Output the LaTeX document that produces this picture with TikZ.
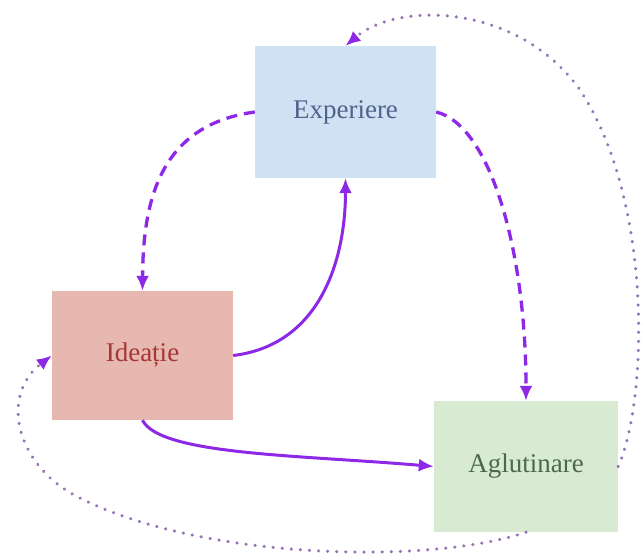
\documentclass[tikz,border=0pt]{standalone}
\usepackage{fontspec}
\setmainfont{Liberation Serif}
\usetikzlibrary{arrows.meta}
\definecolor{arrowc}{RGB}{140,40,230}
\definecolor{dotc}{RGB}{150,115,180}
\definecolor{expfill}{RGB}{207,226,243}
\definecolor{idefill}{RGB}{230,184,175}
\definecolor{aglfill}{RGB}{217,234,211}
\definecolor{exptext}{RGB}{80,98,140}
\definecolor{idetext}{RGB}{165,55,55}
\definecolor{agltext}{RGB}{75,105,75}
\tikzset{
  box/.style={draw=none, inner sep=0pt, font=\fontsize{27}{32}\selectfont},
  tip/.style={-{Latex[length=15pt,width=13pt]}},
  solidarr/.style={tip, draw=arrowc, line width=3pt},
  dasharr/.style={tip, draw=arrowc, line width=3.3pt, dash pattern=on 11pt off 7pt},
  dotarr/.style={-{Latex[length=15pt,width=13pt,color=arrowc]}, draw=dotc, line width=3.4pt, dash pattern=on 0.1pt off 9pt, line cap=round},
}
\begin{document}
\begin{tikzpicture}[x=1pt,y=-1pt]
\useasboundingbox (0,0) rectangle (641,556);
\node[box, fill=expfill, minimum width=181pt, minimum height=132pt, text=exptext] (exp) at (345.5,112) {Experiere};
\node[box, fill=idefill, minimum width=181pt, minimum height=129pt, text=idetext] (ide) at (142.5,355.5) {Ideație};
\node[box, fill=aglfill, minimum width=184pt, minimum height=131pt, text=agltext] (agl) at (526,466.5) {Aglutinare};
% dashed
\draw[dasharr] (exp.west) .. controls (160,125) and (143,200) .. (ide.north);
\draw[dasharr] (exp.east) .. controls (490,125) and (526,250) .. (agl.north);
% solid
\draw[solidarr] (ide.east) .. controls (320,345) and (345.5,260) .. (exp.south);
\draw[solidarr] (ide.south) .. controls (160,455) and (300,455) .. (agl.west);
% dotted
\draw[dotarr] (agl.east) .. controls (648,400) and (653,200) .. (580,90) .. controls (520,5) and (400,0) .. (exp.north);
\draw[dotarr] (agl.south) .. controls (430,565) and (200,560) .. (78,497) .. controls (15,465) and (0,395) .. (ide.west);
\end{tikzpicture}
\end{document}
